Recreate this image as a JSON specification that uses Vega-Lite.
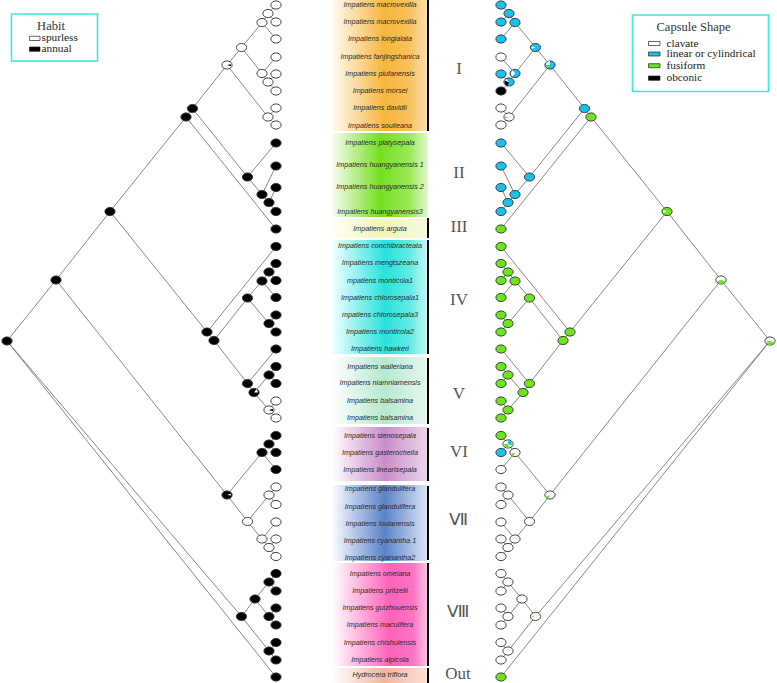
{
"$schema":"https://vega.github.io/schema/vega-lite/v6.json",
"width":777,"height":683,"padding":0,"autosize":{"type":"none"},
"background":"#ffffff",
"config":{"view":{"stroke":null}},
"resolve":{"scale":{"x":"independent"}},
"datasets":{
"bands":[
{"k":"I","x":332,"xe":428,"y":0,"ye":131},
{"k":"II","x":332,"xe":428,"y":133,"ye":217},
{"k":"III","x":332,"xe":428,"y":219,"ye":238},
{"k":"IV","x":332,"xe":428,"y":240,"ye":354},
{"k":"V","x":332,"xe":428,"y":357,"ye":424},
{"k":"VI","x":332,"xe":428,"y":427,"ye":481},
{"k":"VII","x":332,"xe":428,"y":485,"ye":561},
{"k":"VIII","x":332,"xe":428,"y":563,"ye":666},
{"k":"Out","x":332,"xe":428,"y":668,"ye":683}
],
"bars":[
{"x":428,"y":0,"ye":131},{"x":428,"y":218,"ye":238},{"x":428,"y":240,"ye":354},{"x":428,"y":358,"ye":424},{"x":428,"y":428,"ye":481},{"x":428,"y":486,"ye":560},{"x":428,"y":563,"ye":666},{"x":428,"y":668,"ye":683}
],
"numerals":[
{"t":"I","x":459,"y":69},{"t":"II","x":459,"y":173},{"t":"III","x":459,"y":227},{"t":"IV","x":459,"y":300},{"t":"V","x":459,"y":394},{"t":"VI","x":459,"y":452},{"t":"Ⅶ","x":458,"y":520},{"t":"Ⅷ","x":458,"y":612},{"t":"Out","x":458,"y":674}
],
"labels":[
{"t":"Impatiens macrovexilla","x":380,"y":5},
{"t":"Impatiens macrovexilla","x":380,"y":22},
{"t":"Impatiens longialata","x":380,"y":39},
{"t":"Impatiens fanjingshanica","x":380,"y":57},
{"t":"Impatiens piufanensis","x":380,"y":74},
{"t":"Impatiens morsei","x":380,"y":91},
{"t":"Impatiens davidii","x":380,"y":108},
{"t":"Impatiens soulieana","x":380,"y":125.5},
{"t":"Impatiens platysepala","x":380,"y":143},
{"t":"Impatiens huangyanensis 1","x":380,"y":165},
{"t":"Impatiens huangyanensis 2","x":380,"y":187},
{"t":"Impatiens huangyanensis3","x":380,"y":211.5},
{"t":"Impatiens arguta","x":380,"y":228.5},
{"t":"Impatiens conchibracteata","x":380,"y":246},
{"t":"Impatiens mengtszeana","x":380,"y":263},
{"t":"mpatiens monticola1","x":380,"y":280.5},
{"t":"Impatiens chlorosepala1","x":380,"y":297.5},
{"t":"mpatiens chlorosepala3","x":380,"y":315},
{"t":"Impatiens monticola2","x":380,"y":332},
{"t":"Impatiens hawkeri","x":380,"y":349},
{"t":"Impatiens walleriana","x":380,"y":366.5},
{"t":"Impatiens niamniamensis","x":380,"y":383},
{"t":"Impatiens balsamina","x":380,"y":401},
{"t":"Impatiens balsamina","x":380,"y":418},
{"t":"Impatiens stenosepala","x":380,"y":435.5},
{"t":"Impatiens gasterocheila","x":380,"y":452.5},
{"t":"Impatiens linearisepala","x":380,"y":469.5},
{"t":"Impatiens glandulifera","x":380,"y":489},
{"t":"Impatiens glandulifera","x":380,"y":506.5},
{"t":"Impatiens loulanensis","x":380,"y":524},
{"t":"Impatiens cyanantha 1","x":380,"y":541},
{"t":"Impatiens cyanantha2","x":380,"y":558},
{"t":"Impatiens omeiana","x":380,"y":573.5},
{"t":"Impatiens pritzelii","x":380,"y":591},
{"t":"Impatiens guizhouensis","x":380,"y":608},
{"t":"Impatiens maculifera","x":380,"y":625},
{"t":"Impatiens chishuiensis","x":380,"y":642.5},
{"t":"Impatiens alpicola","x":380,"y":660},
{"t":"Hydrocera triflora","x":380,"y":675}
],
"nodes":[
{"id":"L1","x":276,"y":5,"h":"spurless","c":"linear or cylindrical"},
{"id":"L2","x":276,"y":22,"h":"spurless","c":"linear or cylindrical"},
{"id":"L3","x":276,"y":39,"h":"spurless","c":"linear or cylindrical"},
{"id":"L4","x":276,"y":57,"h":"spurless","c":"clavate"},
{"id":"L5","x":276,"y":74,"h":"spurless","c":"linear or cylindrical"},
{"id":"L6","x":276,"y":91,"h":"spurless","c":"obconic"},
{"id":"L7","x":276,"y":108,"h":"spurless","c":"clavate"},
{"id":"L8","x":276,"y":125,"h":"spurless","c":"clavate"},
{"id":"L9","x":276,"y":143,"h":"annual","c":"linear or cylindrical"},
{"id":"L10","x":276,"y":166,"h":"annual","c":"linear or cylindrical"},
{"id":"L11","x":276,"y":187.5,"h":"annual","c":"linear or cylindrical"},
{"id":"L12","x":276,"y":211.5,"h":"annual","c":"linear or cylindrical"},
{"id":"L13","x":276,"y":229,"h":"annual","c":"fusiform"},
{"id":"L14","x":276,"y":246.5,"h":"annual","c":"fusiform"},
{"id":"L15","x":276,"y":263.5,"h":"annual","c":"fusiform"},
{"id":"L16","x":276,"y":280.5,"h":"annual","c":"fusiform"},
{"id":"L17","x":276,"y":297.5,"h":"annual","c":"fusiform"},
{"id":"L18","x":276,"y":315,"h":"annual","c":"fusiform"},
{"id":"L19","x":276,"y":332,"h":"annual","c":"fusiform"},
{"id":"L20","x":276,"y":349,"h":"annual","c":"fusiform"},
{"id":"L21","x":276,"y":366.5,"h":"annual","c":"fusiform"},
{"id":"L22","x":276,"y":383.5,"h":"annual","c":"fusiform"},
{"id":"L23","x":276,"y":401,"h":"spurless","c":"fusiform"},
{"id":"L24","x":276,"y":418,"h":"spurless","c":"fusiform"},
{"id":"L25","x":276,"y":435.5,"h":"annual","c":"fusiform"},
{"id":"L26","x":276,"y":452.5,"h":"annual","c":"linear or cylindrical"},
{"id":"L27","x":276,"y":469.5,"h":"annual","c":"clavate"},
{"id":"L28","x":276,"y":487,"h":"spurless","c":"clavate"},
{"id":"L29","x":276,"y":504.5,"h":"spurless","c":"clavate"},
{"id":"L30","x":276,"y":522,"h":"spurless","c":"clavate"},
{"id":"L31","x":276,"y":539,"h":"spurless","c":"clavate"},
{"id":"L32","x":276,"y":556.5,"h":"spurless","c":"clavate"},
{"id":"L33","x":276,"y":573.5,"h":"annual","c":"clavate"},
{"id":"L34","x":276,"y":591,"h":"annual","c":"clavate"},
{"id":"L35","x":276,"y":608,"h":"annual","c":"clavate"},
{"id":"L36","x":276,"y":625,"h":"annual","c":"clavate"},
{"id":"L37","x":276,"y":642.5,"h":"annual","c":"clavate"},
{"id":"L38","x":276,"y":660,"h":"annual","c":"clavate"},
{"id":"L39","x":276,"y":677,"h":"annual","c":"fusiform"},
{"id":"n1","x":268,"y":13.5,"h":"spurless","c":"linear or cylindrical"},
{"id":"n2","x":262,"y":22.5,"h":"spurless","c":"linear or cylindrical"},
{"id":"n3","x":268,"y":82,"h":"spurless","c":"linear or cylindrical"},
{"id":"n4","x":262,"y":73.5,"h":"spurless","c":"linear or cylindrical"},
{"id":"n5","x":241.5,"y":47.5,"h":"spurless","c":"linear or cylindrical"},
{"id":"n6","x":268,"y":117,"h":"spurless","c":"clavate"},
{"id":"n7","x":227,"y":65,"h":"spurless","c":"linear or cylindrical"},
{"id":"n8","x":269,"y":202.5,"h":"annual","c":"linear or cylindrical"},
{"id":"n9","x":262,"y":194.5,"h":"annual","c":"linear or cylindrical"},
{"id":"n10","x":247.5,"y":177,"h":"annual","c":"linear or cylindrical"},
{"id":"n11","x":192.5,"y":108.5,"h":"annual","c":"linear or cylindrical"},
{"id":"n12","x":186,"y":117,"h":"annual","c":"fusiform"},
{"id":"n13","x":269,"y":272,"h":"annual","c":"fusiform"},
{"id":"n14","x":262,"y":281,"h":"annual","c":"fusiform"},
{"id":"n15","x":269,"y":323.5,"h":"annual","c":"fusiform"},
{"id":"n16","x":247.5,"y":298,"h":"annual","c":"fusiform"},
{"id":"n17","x":269,"y":375,"h":"annual","c":"fusiform"},
{"id":"n18","x":269,"y":410,"h":"spurless","c":"fusiform"},
{"id":"n19","x":254,"y":392.5,"h":"annual","c":"fusiform"},
{"id":"n20","x":247.5,"y":383.5,"h":"annual","c":"fusiform"},
{"id":"n21","x":214,"y":340.5,"h":"annual","c":"fusiform"},
{"id":"n22","x":207,"y":332,"h":"annual","c":"fusiform"},
{"id":"n23","x":110,"y":211.5,"h":"annual","c":"fusiform"},
{"id":"n24","x":269,"y":444,"h":"annual","c":"clavate"},
{"id":"n25","x":262,"y":452.5,"h":"annual","c":"clavate"},
{"id":"n26","x":269,"y":495,"h":"spurless","c":"clavate"},
{"id":"n27","x":269,"y":547.5,"h":"spurless","c":"clavate"},
{"id":"n28","x":262,"y":539,"h":"spurless","c":"clavate"},
{"id":"n29","x":247.5,"y":521.5,"h":"spurless","c":"clavate"},
{"id":"n30","x":227,"y":495,"h":"annual","c":"clavate"},
{"id":"n31","x":56,"y":280,"h":"annual","c":"clavate"},
{"id":"n32","x":269,"y":582,"h":"annual","c":"clavate"},
{"id":"n33","x":269,"y":616.5,"h":"annual","c":"clavate"},
{"id":"n34","x":255,"y":599,"h":"annual","c":"clavate"},
{"id":"n35","x":269,"y":651,"h":"annual","c":"clavate"},
{"id":"n36","x":241.5,"y":616.5,"h":"annual","c":"clavate"},
{"id":"R","x":7,"y":341,"h":"annual","c":"clavate"}
],
"edges":[
{"p":"n1","ch":"L1"},{"p":"n1","ch":"L2"},{"p":"n2","ch":"n1"},{"p":"n2","ch":"L3"},{"p":"n3","ch":"L5"},{"p":"n3","ch":"L6"},{"p":"n4","ch":"L4"},{"p":"n4","ch":"n3"},{"p":"n5","ch":"n2"},{"p":"n5","ch":"n4"},{"p":"n6","ch":"L7"},{"p":"n6","ch":"L8"},{"p":"n7","ch":"n5"},{"p":"n7","ch":"n6"},{"p":"n8","ch":"L11"},{"p":"n8","ch":"L12"},{"p":"n9","ch":"L10"},{"p":"n9","ch":"n8"},{"p":"n10","ch":"L9"},{"p":"n10","ch":"n9"},{"p":"n11","ch":"n7"},{"p":"n11","ch":"n10"},{"p":"n12","ch":"n11"},{"p":"n12","ch":"L13"},{"p":"n13","ch":"L15"},{"p":"n13","ch":"L16"},{"p":"n14","ch":"n13"},{"p":"n14","ch":"L17"},{"p":"n15","ch":"L18"},{"p":"n15","ch":"L19"},{"p":"n16","ch":"n14"},{"p":"n16","ch":"n15"},{"p":"n17","ch":"L21"},{"p":"n17","ch":"L22"},{"p":"n18","ch":"L23"},{"p":"n18","ch":"L24"},{"p":"n19","ch":"n17"},{"p":"n19","ch":"n18"},{"p":"n20","ch":"L20"},{"p":"n20","ch":"n19"},{"p":"n21","ch":"n16"},{"p":"n21","ch":"n20"},{"p":"n22","ch":"L14"},{"p":"n22","ch":"n21"},{"p":"n23","ch":"n12"},{"p":"n23","ch":"n22"},{"p":"n24","ch":"L25"},{"p":"n24","ch":"L26"},{"p":"n25","ch":"n24"},{"p":"n25","ch":"L27"},{"p":"n26","ch":"L28"},{"p":"n26","ch":"L29"},{"p":"n27","ch":"L31"},{"p":"n27","ch":"L32"},{"p":"n28","ch":"L30"},{"p":"n28","ch":"n27"},{"p":"n29","ch":"n26"},{"p":"n29","ch":"n28"},{"p":"n30","ch":"n25"},{"p":"n30","ch":"n29"},{"p":"n31","ch":"n23"},{"p":"n31","ch":"n30"},{"p":"n32","ch":"L33"},{"p":"n32","ch":"L34"},{"p":"n33","ch":"L35"},{"p":"n33","ch":"L36"},{"p":"n34","ch":"n32"},{"p":"n34","ch":"n33"},{"p":"n35","ch":"L37"},{"p":"n35","ch":"L38"},{"p":"n36","ch":"n34"},{"p":"n36","ch":"n35"},{"p":"R","ch":"n31"},{"p":"R","ch":"n36"},{"p":"R","ch":"L39"}
],
"slices":[
{"id":"n7","side":"L","cat":"annual","a0":0.22,"a1":0.3},
{"id":"n18","side":"L","cat":"annual","a0":0.2,"a1":0.3},
{"id":"n19","side":"L","cat":"spurless","a0":0.1,"a1":0.25},
{"id":"n30","side":"L","cat":"spurless","a0":0.2,"a1":0.27},
{"id":"n3","side":"R","cat":"obconic","a0":0.55,"a1":0.8},
{"id":"n3","side":"R","cat":"clavate","a0":0.8,"a1":0.9},
{"id":"n4","side":"R","cat":"clavate","a0":0.62,"a1":0.9},
{"id":"n5","side":"R","cat":"clavate","a0":0.7,"a1":0.8},
{"id":"n6","side":"R","cat":"linear or cylindrical","a0":0.7,"a1":0.76},
{"id":"n7","side":"R","cat":"clavate","a0":0.75,"a1":1.0},
{"id":"n7","side":"R","cat":"fusiform","a0":0.58,"a1":0.72},
{"id":"n23","side":"R","cat":"clavate","a0":0.7,"a1":0.8},
{"id":"n24","side":"R","cat":"linear or cylindrical","a0":0.0,"a1":0.3},
{"id":"n24","side":"R","cat":"fusiform","a0":0.45,"a1":0.75},
{"id":"n25","side":"R","cat":"fusiform","a0":0.55,"a1":0.7},
{"id":"n30","side":"R","cat":"fusiform","a0":0.58,"a1":0.7},
{"id":"n31","side":"R","cat":"fusiform","a0":0.3,"a1":0.7},
{"id":"R","side":"R","cat":"fusiform","a0":0.3,"a1":0.72},
{"id":"n36","side":"R","cat":"fusiform","a0":0.72,"a1":0.76}
],
"lbox":[
{"x":11.5,"xe":97.5,"y":14,"ye":61},
{"x":632.5,"xe":768.5,"y":15,"ye":91.5}
],
"ltitle":[
{"t":"Habit","x":51,"y":25.5},
{"t":"Capsule Shape","x":693.5,"y":27}
],
"lsw":[
{"cat":"spurless","t":"spurless","x":29.5,"xe":40,"y":36.3,"ye":40.5,"lx":41.5,"ly":38.3},
{"cat":"annual","t":"annual","x":29.5,"xe":40,"y":47,"ye":51.3,"lx":41.5,"ly":49.2},
{"cat":"clavate","t":"clavate","x":648.5,"xe":660,"y":41.5,"ye":45.5,"lx":666.5,"ly":43.5},
{"cat":"linear or cylindrical","t":"linear or cylindrical","x":648.5,"xe":660,"y":52,"ye":56,"lx":666.5,"ly":54.3},
{"cat":"fusiform","t":"fusiform","x":648.5,"xe":660,"y":63.7,"ye":67.7,"lx":666.5,"ly":65.7},
{"cat":"obconic","t":"obconic","x":648.5,"xe":660,"y":76,"ye":80.3,"lx":666.5,"ly":78.2}
]
},
"layer":[
{"data":{"name":"bands"},"transform":[{"filter":"datum.k==='I'"}],
 "mark":{"type":"rect","fill":{"gradient":"linear","x1":0,"y1":0,"x2":1,"y2":0,"stops":[{"offset":0,"color":"#fffbf3"},{"offset":0.55,"color":"#f7b63c"},{"offset":0.8,"color":"#f8c15a"},{"offset":1,"color":"#fce0b0"}]}},
 "encoding":{"x":{"field":"x","type":"quantitative","scale":{"domain":[0,777],"nice":false,"zero":false},"axis":null},"x2":{"field":"xe"},"y":{"field":"y","type":"quantitative","scale":{"domain":[0,683],"nice":false,"zero":false,"reverse":true},"axis":null},"y2":{"field":"ye"}}},
{"data":{"name":"bands"},"transform":[{"filter":"datum.k==='II'"}],
 "mark":{"type":"rect","fill":{"gradient":"linear","x1":0,"y1":0,"x2":1,"y2":0,"stops":[{"offset":0,"color":"#f8fdf2"},{"offset":0.5,"color":"#74e020"},{"offset":0.8,"color":"#98e955"},{"offset":1,"color":"#e2f8cf"}]}},
 "encoding":{"x":{"field":"x","type":"quantitative","scale":{"domain":[0,777],"nice":false,"zero":false},"axis":null},"x2":{"field":"xe"},"y":{"field":"y","type":"quantitative","scale":{"domain":[0,683],"nice":false,"zero":false,"reverse":true},"axis":null},"y2":{"field":"ye"}}},
{"data":{"name":"bands"},"transform":[{"filter":"datum.k==='III'"}],
 "mark":{"type":"rect","fill":{"gradient":"linear","x1":0,"y1":0,"x2":1,"y2":0,"stops":[{"offset":0,"color":"#fffff6"},{"offset":0.5,"color":"#f1f4b8"},{"offset":1,"color":"#f8f9df"}]}},
 "encoding":{"x":{"field":"x","type":"quantitative","scale":{"domain":[0,777],"nice":false,"zero":false},"axis":null},"x2":{"field":"xe"},"y":{"field":"y","type":"quantitative","scale":{"domain":[0,683],"nice":false,"zero":false,"reverse":true},"axis":null},"y2":{"field":"ye"}}},
{"data":{"name":"bands"},"transform":[{"filter":"datum.k==='IV'"}],
 "mark":{"type":"rect","fill":{"gradient":"linear","x1":0,"y1":0,"x2":1,"y2":0,"stops":[{"offset":0,"color":"#f2ffff"},{"offset":0.55,"color":"#28e2dc"},{"offset":0.8,"color":"#5eeae4"},{"offset":1,"color":"#c8f6f4"}]}},
 "encoding":{"x":{"field":"x","type":"quantitative","scale":{"domain":[0,777],"nice":false,"zero":false},"axis":null},"x2":{"field":"xe"},"y":{"field":"y","type":"quantitative","scale":{"domain":[0,683],"nice":false,"zero":false,"reverse":true},"axis":null},"y2":{"field":"ye"}}},
{"data":{"name":"bands"},"transform":[{"filter":"datum.k==='V'"}],
 "mark":{"type":"rect","fill":{"gradient":"linear","x1":0,"y1":0,"x2":1,"y2":0,"stops":[{"offset":0,"color":"#ffffff"},{"offset":0.55,"color":"#b6e8cf"},{"offset":1,"color":"#e8f7ef"}]}},
 "encoding":{"x":{"field":"x","type":"quantitative","scale":{"domain":[0,777],"nice":false,"zero":false},"axis":null},"x2":{"field":"xe"},"y":{"field":"y","type":"quantitative","scale":{"domain":[0,683],"nice":false,"zero":false,"reverse":true},"axis":null},"y2":{"field":"ye"}}},
{"data":{"name":"bands"},"transform":[{"filter":"datum.k==='VI'"}],
 "mark":{"type":"rect","fill":{"gradient":"linear","x1":0,"y1":0,"x2":1,"y2":0,"stops":[{"offset":0,"color":"#ffffff"},{"offset":0.55,"color":"#c98cc9"},{"offset":1,"color":"#ecd6ec"}]}},
 "encoding":{"x":{"field":"x","type":"quantitative","scale":{"domain":[0,777],"nice":false,"zero":false},"axis":null},"x2":{"field":"xe"},"y":{"field":"y","type":"quantitative","scale":{"domain":[0,683],"nice":false,"zero":false,"reverse":true},"axis":null},"y2":{"field":"ye"}}},
{"data":{"name":"bands"},"transform":[{"filter":"datum.k==='VII'"}],
 "mark":{"type":"rect","fill":{"gradient":"linear","x1":0,"y1":0,"x2":1,"y2":0,"stops":[{"offset":0,"color":"#fbfcff"},{"offset":0.55,"color":"#5b82c8"},{"offset":1,"color":"#dde6f5"}]}},
 "encoding":{"x":{"field":"x","type":"quantitative","scale":{"domain":[0,777],"nice":false,"zero":false},"axis":null},"x2":{"field":"xe"},"y":{"field":"y","type":"quantitative","scale":{"domain":[0,683],"nice":false,"zero":false,"reverse":true},"axis":null},"y2":{"field":"ye"}}},
{"data":{"name":"bands"},"transform":[{"filter":"datum.k==='VIII'"}],
 "mark":{"type":"rect","fill":{"gradient":"linear","x1":0,"y1":0,"x2":1,"y2":0,"stops":[{"offset":0,"color":"#ffffff"},{"offset":0.6,"color":"#ff62ba"},{"offset":0.85,"color":"#ff74c3"},{"offset":1,"color":"#ffc8e7"}]}},
 "encoding":{"x":{"field":"x","type":"quantitative","scale":{"domain":[0,777],"nice":false,"zero":false},"axis":null},"x2":{"field":"xe"},"y":{"field":"y","type":"quantitative","scale":{"domain":[0,683],"nice":false,"zero":false,"reverse":true},"axis":null},"y2":{"field":"ye"}}},
{"data":{"name":"bands"},"transform":[{"filter":"datum.k==='Out'"}],
 "mark":{"type":"rect","fill":{"gradient":"linear","x1":0,"y1":0,"x2":1,"y2":0,"stops":[{"offset":0,"color":"#ffffff"},{"offset":0.55,"color":"#f1b59d"},{"offset":1,"color":"#fbe4d9"}]}},
 "encoding":{"x":{"field":"x","type":"quantitative","scale":{"domain":[0,777],"nice":false,"zero":false},"axis":null},"x2":{"field":"xe"},"y":{"field":"y","type":"quantitative","scale":{"domain":[0,683],"nice":false,"zero":false,"reverse":true},"axis":null},"y2":{"field":"ye"}}},
{"data":{"name":"bars"},"mark":{"type":"rule","stroke":"#000000","strokeWidth":2},
 "encoding":{"x":{"field":"x","type":"quantitative","scale":{"domain":[0,777],"nice":false,"zero":false},"axis":null},"y":{"field":"y","type":"quantitative","scale":{"domain":[0,683],"nice":false,"zero":false,"reverse":true},"axis":null},"y2":{"field":"ye"}}},
{"data":{"name":"labels"},"mark":{"type":"text","font":"Liberation Sans","fontStyle":"italic","fontSize":7.2,"fill":"#2b2b2b","align":"center","baseline":"middle"},
 "encoding":{"x":{"field":"x","type":"quantitative","scale":{"domain":[0,777],"nice":false,"zero":false},"axis":null},"y":{"field":"y","type":"quantitative","scale":{"domain":[0,683],"nice":false,"zero":false,"reverse":true},"axis":null},"text":{"field":"t"}}},
{"data":{"name":"numerals"},"mark":{"type":"text","font":"Liberation Serif","fontSize":17,"fill":"#555555","align":"center","baseline":"middle"},
 "encoding":{"x":{"field":"x","type":"quantitative","scale":{"domain":[0,777],"nice":false,"zero":false},"axis":null},"y":{"field":"y","type":"quantitative","scale":{"domain":[0,683],"nice":false,"zero":false,"reverse":true},"axis":null},"text":{"field":"t"}}},
{"data":{"name":"edges"},"transform":[{"lookup":"p","from":{"data":{"name":"nodes"},"key":"id","fields":["x","y"]},"as":["px","py"]},{"lookup":"ch","from":{"data":{"name":"nodes"},"key":"id","fields":["x","y"]},"as":["cx","cy"]}],
 "mark":{"type":"rule","stroke":"#7a7a7a","strokeWidth":0.9},
 "encoding":{"x":{"field":"px","type":"quantitative","scale":{"domain":[0,777],"nice":false,"zero":false},"axis":null},"y":{"field":"py","type":"quantitative","scale":{"domain":[0,683],"nice":false,"zero":false,"reverse":true},"axis":null},"x2":{"field":"cx"},"y2":{"field":"cy"}}},
{"data":{"name":"edges"},"transform":[{"lookup":"p","from":{"data":{"name":"nodes"},"key":"id","fields":["x","y"]},"as":["px","py"]},{"lookup":"ch","from":{"data":{"name":"nodes"},"key":"id","fields":["x","y"]},"as":["cx","cy"]}],
 "mark":{"type":"rule","stroke":"#7a7a7a","strokeWidth":0.9},
 "encoding":{"x":{"field":"px","type":"quantitative","scale":{"domain":[0,777],"nice":false,"zero":false,"reverse":true},"axis":null},"y":{"field":"py","type":"quantitative","scale":{"domain":[0,683],"nice":false,"zero":false,"reverse":true},"axis":null},"x2":{"field":"cx"},"y2":{"field":"cy"}}},
{"data":{"name":"nodes"},
 "mark":{"type":"point","shape":"M-1,0A1,0.8,0,1,1,1,0A1,0.8,0,1,1,-1,0Z","size":105,"filled":true,"opacity":1,"stroke":"#333333","strokeWidth":0.9},
 "encoding":{"x":{"field":"x","type":"quantitative","scale":{"domain":[0,777],"nice":false,"zero":false},"axis":null},"y":{"field":"y","type":"quantitative","scale":{"domain":[0,683],"nice":false,"zero":false,"reverse":true},"axis":null},
  "fill":{"field":"h","type":"nominal","scale":{"domain":["spurless","annual","clavate","linear or cylindrical","fusiform","obconic"],"range":["#ffffff","#000000","#ffffff","#1bc1ee","#6de51c","#000000"]},"legend":null}}},
{"data":{"name":"nodes"},
 "mark":{"type":"point","shape":"M-1,0A1,0.8,0,1,1,1,0A1,0.8,0,1,1,-1,0Z","size":105,"filled":true,"opacity":1,"stroke":"#333333","strokeWidth":0.9},
 "encoding":{"x":{"field":"x","type":"quantitative","scale":{"domain":[0,777],"nice":false,"zero":false,"reverse":true},"axis":null},"y":{"field":"y","type":"quantitative","scale":{"domain":[0,683],"nice":false,"zero":false,"reverse":true},"axis":null},
  "fill":{"field":"c","type":"nominal","scale":{"domain":["spurless","annual","clavate","linear or cylindrical","fusiform","obconic"],"range":["#ffffff","#000000","#ffffff","#1bc1ee","#6de51c","#000000"]},"legend":null}}},
{"data":{"name":"slices"},"transform":[{"filter":"datum.side==='L'"},{"lookup":"id","from":{"data":{"name":"nodes"},"key":"id","fields":["x","y"]}}],
 "mark":{"type":"arc","radius":4,"innerRadius":0},
 "encoding":{"x":{"field":"x","type":"quantitative","scale":{"domain":[0,777],"nice":false,"zero":false},"axis":null},"y":{"field":"y","type":"quantitative","scale":{"domain":[0,683],"nice":false,"zero":false,"reverse":true},"axis":null},
  "theta":{"field":"a0","type":"quantitative","stack":null,"scale":{"domain":[0,1],"range":[0,6.283185]}},"theta2":{"field":"a1"},
  "fill":{"field":"cat","type":"nominal","scale":{"domain":["spurless","annual","clavate","linear or cylindrical","fusiform","obconic"],"range":["#ffffff","#000000","#ffffff","#1bc1ee","#6de51c","#000000"]},"legend":null}}},
{"data":{"name":"slices"},"transform":[{"filter":"datum.side==='R'"},{"lookup":"id","from":{"data":{"name":"nodes"},"key":"id","fields":["x","y"]}}],
 "mark":{"type":"arc","radius":4,"innerRadius":0},
 "encoding":{"x":{"field":"x","type":"quantitative","scale":{"domain":[0,777],"nice":false,"zero":false,"reverse":true},"axis":null},"y":{"field":"y","type":"quantitative","scale":{"domain":[0,683],"nice":false,"zero":false,"reverse":true},"axis":null},
  "theta":{"field":"a0","type":"quantitative","stack":null,"scale":{"domain":[0,1],"range":[0,6.283185]}},"theta2":{"field":"a1"},
  "fill":{"field":"cat","type":"nominal","scale":{"domain":["spurless","annual","clavate","linear or cylindrical","fusiform","obconic"],"range":["#ffffff","#000000","#ffffff","#1bc1ee","#6de51c","#000000"]},"legend":null}}},
{"data":{"name":"lbox"},"mark":{"type":"rect","fill":"#ffffff","stroke":"#3ee6e0","strokeWidth":1.6},
 "encoding":{"x":{"field":"x","type":"quantitative","scale":{"domain":[0,777],"nice":false,"zero":false},"axis":null},"x2":{"field":"xe"},"y":{"field":"y","type":"quantitative","scale":{"domain":[0,683],"nice":false,"zero":false,"reverse":true},"axis":null},"y2":{"field":"ye"}}},
{"data":{"name":"ltitle"},"mark":{"type":"text","font":"Liberation Serif","fontSize":12.5,"fill":"#333333","align":"center","baseline":"middle"},
 "encoding":{"x":{"field":"x","type":"quantitative","scale":{"domain":[0,777],"nice":false,"zero":false},"axis":null},"y":{"field":"y","type":"quantitative","scale":{"domain":[0,683],"nice":false,"zero":false,"reverse":true},"axis":null},"text":{"field":"t"}}},
{"data":{"name":"lsw"},"mark":{"type":"rect","stroke":"#222222","strokeWidth":0.7},
 "encoding":{"x":{"field":"x","type":"quantitative","scale":{"domain":[0,777],"nice":false,"zero":false},"axis":null},"x2":{"field":"xe"},"y":{"field":"y","type":"quantitative","scale":{"domain":[0,683],"nice":false,"zero":false,"reverse":true},"axis":null},"y2":{"field":"ye"},
  "fill":{"field":"cat","type":"nominal","scale":{"domain":["spurless","annual","clavate","linear or cylindrical","fusiform","obconic"],"range":["#ffffff","#000000","#ffffff","#1bc1ee","#6de51c","#000000"]},"legend":null}}},
{"data":{"name":"lsw"},"mark":{"type":"text","font":"Liberation Serif","fontSize":11.3,"fill":"#222222","align":"left","baseline":"middle"},
 "encoding":{"x":{"field":"lx","type":"quantitative","scale":{"domain":[0,777],"nice":false,"zero":false},"axis":null},"y":{"field":"ly","type":"quantitative","scale":{"domain":[0,683],"nice":false,"zero":false,"reverse":true},"axis":null},"text":{"field":"t"}}}
]
}
